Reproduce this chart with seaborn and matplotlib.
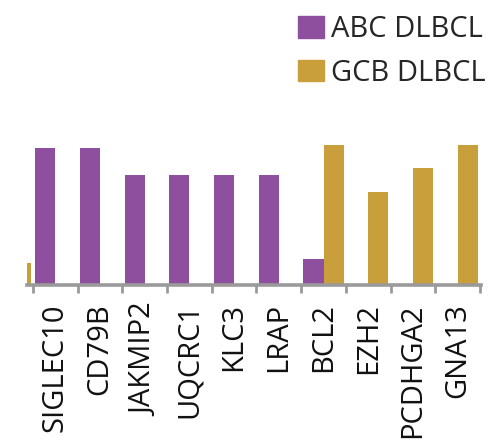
import numpy as np
import pandas as pd
import matplotlib
matplotlib.use("Agg")
import matplotlib.pyplot as plt
import matplotlib.patches as mpatches
import seaborn as sns

# first entry is the bar cut off at the left edge of the crop
genes = ["", "SIGLEC10", "CD79B", "JAKMIP2", "UQCRC1", "KLC3", "LRAP",
         "BCL2", "EZH2", "PCDHGA2", "GNA13"]
abc = [0, 5.0, 5.0, 4.0, 4.0, 4.0, 4.0, 0.95, 0, 0, 0]
gcb = [0.8, 0, 0, 0, 0, 0, 0, 5.1, 3.4, 4.25, 5.1]
groups = ["ABC DLBCL", "GCB DLBCL"]
colors = {"ABC DLBCL": "#8f4f9f", "GCB DLBCL": "#c99f3b"}

df = pd.DataFrame({
    "gene": genes * 2,
    "group": [groups[0]] * len(genes) + [groups[1]] * len(genes),
    "value": abc + gcb,
})

sns.set_style("white")
plt.rcParams["font.family"] = ["Open Sans", "DejaVu Sans"]

fig = plt.figure(figsize=(5.01, 4.48), dpi=100)
ax = fig.add_axes([27 / 501, 1 - 285 / 448, (481 - 27) / 501, 185 / 448])

sns.barplot(data=df, x="gene", y="value", hue="group", order=genes,
            hue_order=groups, palette=colors, width=0.9, saturation=1,
            linewidth=0, ax=ax, legend=False)

ax.set_xlabel("")
ax.set_ylabel("")
ax.set_yticks([])
for s in ["top", "right", "left"]:
    ax.spines[s].set_visible(False)
ax.spines["bottom"].set_color("#9a9a9a")
ax.spines["bottom"].set_linewidth(2.6)

ax.set_xticks(range(len(genes)))
ax.set_xticklabels(genes, rotation=90, fontsize=21, color="#111111")
ax.set_xticks(np.arange(len(genes)) + 0.5, minor=True)
ax.tick_params(axis="x", which="both", bottom=True)
ax.tick_params(axis="x", which="major", length=0, pad=13)
ax.tick_params(axis="x", which="minor", length=6, width=2, color="#9a9a9a",
               direction="out")
ax.set_xlim(0.37, 10.52)
ax.set_ylim(0, 6.73)

handles = [mpatches.Patch(color=colors[g], label=g) for g in groups]
fig.legend(handles=handles, loc="upper left", bbox_to_anchor=(298 / 501, 1 - 15 / 448),
           frameon=False, fontsize=21, handlelength=0.9, handleheight=0.75,
           handletextpad=0.22, labelspacing=0.5, borderpad=0, borderaxespad=0)

fig.savefig("out.png", dpi=100)
